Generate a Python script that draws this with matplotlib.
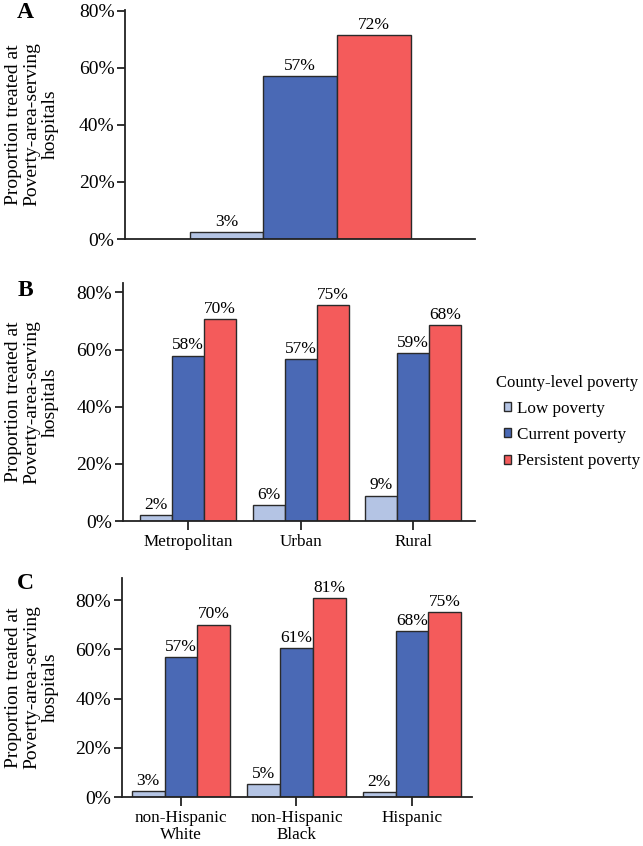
import numpy as np
import matplotlib.pyplot as plt
from matplotlib.patches import Patch

plt.rcParams['font.family'] = ['Liberation Serif', 'DejaVu Serif']

series = ["Low poverty", "Current poverty", "Persistent poverty"]
colors = ["#b4c4e4", "#4a69b5", "#f45b5b"]

# panel A: overall
overall = [2.5, 57.3, 71.6]
overall_lbl = ["3%", "57%", "72%"]

# panel B: rurality
rural_cats = ["Metropolitan", "Urban", "Rural"]
rural_vals = [[2.2, 5.6, 8.9],      # low
              [57.9, 56.8, 58.8],   # current
              [70.6, 75.5, 68.6]]   # persistent
rural_lbl = [["2%", "6%", "9%"],
             ["58%", "57%", "59%"],
             ["70%", "75%", "68%"]]

# panel C: race / ethnicity
race_cats = ["non-Hispanic\nWhite", "non-Hispanic\nBlack", "Hispanic"]
race_vals = [[2.6, 5.1, 2.2],
             [57.0, 60.5, 67.5],
             [70.1, 80.9, 75.1]]
race_lbl = [["3%", "5%", "2%"],
            ["57%", "61%", "68%"],
            ["70%", "81%", "75%"]]

yticks = [0, 20, 40, 60, 80]
ylab = "Proportion treated at\nPoverty-area-serving\nhospitals"

W, H = 643, 846
fig = plt.figure(figsize=(W / 100, H / 100), dpi=100)

def make_ax(left, right, bottom, top):
    return fig.add_axes([left / W, 1 - bottom / H, (right - left) / W, (bottom - top) / H])

axA = make_ax(125.5, 475, 239, 10)
axB = make_ax(123, 475, 521, 283)
axC = make_ax(122, 472, 797, 578)

w = 0.284
EDGE = "#2a2a2a"

def style(ax, ytop):
    ax.set_ylim(0, ytop)
    ax.set_yticks(yticks)
    ax.set_yticklabels([f"{t}%" for t in yticks], fontsize=14)
    for s in ["top", "right"]:
        ax.spines[s].set_visible(False)
    for s in ["left", "bottom"]:
        ax.spines[s].set_linewidth(1.3)
        ax.spines[s].set_color("#222222")
    ax.tick_params(axis="y", length=6, width=1.3, color="#222222", pad=2)
    ax.tick_params(axis="x", length=6.5, width=1.3, color="#222222", labelsize=12.3, pad=3)
    ax.set_ylabel(ylab, fontsize=14, linespacing=1.1, va="center")
    # put the three-line label block at the same page x for all panels
    bb = ax.get_position()
    ax.yaxis.set_label_coords((32 / W - bb.x0) / bb.width, 0.5)

def draw_groups(ax, vals, lbls):
    x = np.arange(len(vals[0]))
    for i in range(3):
        bars = ax.bar(x + (i - 1) * w, vals[i], width=w, color=colors[i],
                      edgecolor=EDGE, linewidth=1.0)
        for b, t in zip(bars, lbls[i]):
            ax.annotate(t, (b.get_x() + b.get_width() / 2, b.get_height()),
                        xytext=(0, 1.5), textcoords="offset points",
                        ha="center", va="bottom", fontsize=12.5)

# A
for i in range(3):
    b = axA.bar((i - 1) * w, overall[i], width=w, color=colors[i],
                edgecolor=EDGE, linewidth=1.0)[0]
    axA.annotate(overall_lbl[i], (b.get_x() + w / 2, overall[i]),
                 xytext=(0, 1.5), textcoords="offset points",
                 ha="center", va="bottom", fontsize=12.5)
axA.set_xlim(-2.37 * w, 2.37 * w)
style(axA, 80.3)
axA.set_xticks([])

# B
draw_groups(axB, rural_vals, rural_lbl)
axB.set_xlim(-0.577, 2.547)
style(axB, 83.3)
axB.set_xticks(range(3))
axB.set_xticklabels(rural_cats)

# C
draw_groups(axC, race_vals, race_lbl)
axC.set_xlim(-0.51, 2.52)
style(axC, 89)
axC.set_xticks(range(3))
axC.set_xticklabels(race_cats, linespacing=1.05)

for lab, yy in zip("ABC", [13, 290, 583]):
    fig.text(25 / W, 1 - yy / H, lab, fontsize=17, fontweight="bold", va="center", ha="center")

# legend: title as plain text, entries slightly indented under it
fig.text(496 / W, 1 - 383 / H, "County-level poverty", fontsize=12, va="center", ha="left")
handles = [Patch(facecolor=c, edgecolor=EDGE, linewidth=1.0, label=s) for c, s in zip(colors, series)]
fig.legend(handles=handles, loc="center left", bbox_to_anchor=(504 / W, 1 - 435 / H),
           frameon=False, fontsize=12.3, handlelength=0.42, handleheight=0.42,
           handletextpad=0.35, labelspacing=0.6, borderpad=0, borderaxespad=0)

fig.savefig("out.png", dpi=100)
